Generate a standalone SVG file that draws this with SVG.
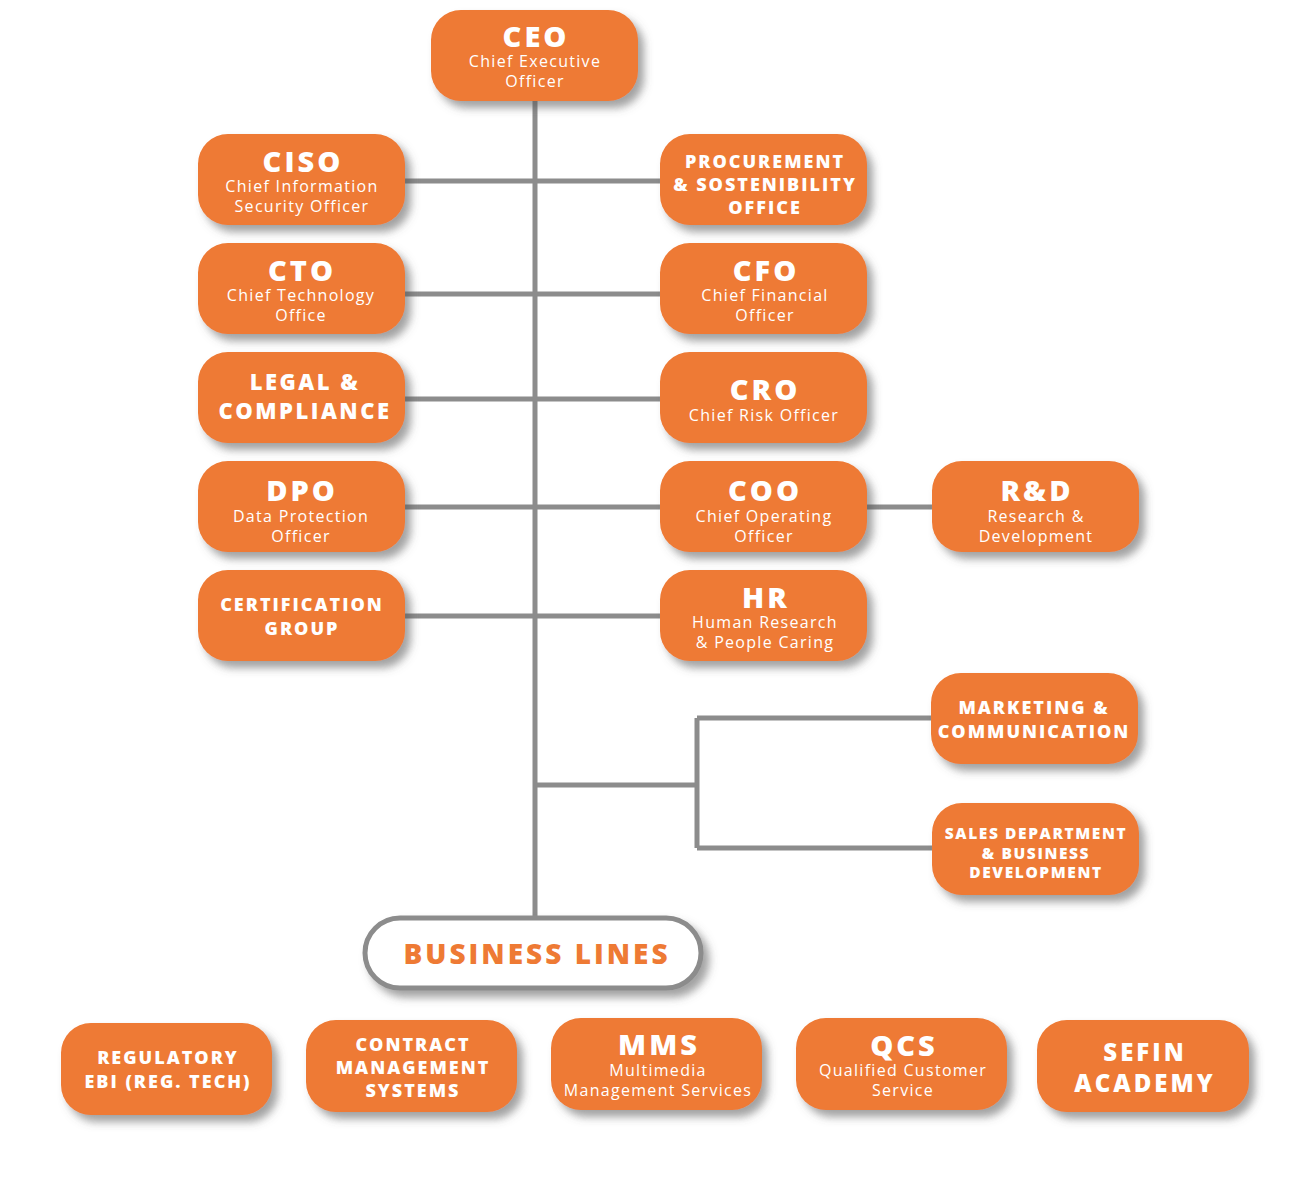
<svg xmlns="http://www.w3.org/2000/svg" width="1290" height="1187" viewBox="0 0 1290 1187">
<defs>
<filter id="sh" x="-20%" y="-20%" width="150%" height="160%">
<feDropShadow dx="6" dy="7" stdDeviation="4" flood-color="#555" flood-opacity="0.55"/>
</filter>
<style>
.box{fill:#EE7A34;filter:url(#sh)}
.t{font-family:"Open Sans","Liberation Sans",sans-serif;font-weight:800;fill:#fff;text-anchor:middle}
.big{font-size:29px;letter-spacing:3px}
.m{font-size:18px;letter-spacing:2px}
.s{font-family:"Open Sans","Liberation Sans",sans-serif;font-weight:500;fill:#fff;text-anchor:middle;font-size:16px;letter-spacing:1.3px}
.ln{stroke:#8C8C8C;stroke-width:5;fill:none}
</style>
</defs>
<rect width="1290" height="1187" fill="#fff"/>
<g id="connectors">
<path class="ln" d="M535 100V918"/>
<path class="ln" d="M405 181H660M405 294H660M405 399H660M405 507H660M405 616H660M867 507H932"/>
<path class="ln" d="M535 785H697M697 718V848M697 718H931M697 848H932"/>
</g>
<g id="ceo"><rect class="box" x="431" y="10" width="207" height="91" rx="30"/>
<text class="t big" x="536" y="47">CEO</text>
<text class="s" x="535" y="67">Chief Executive</text><text class="s" x="535" y="87">Officer</text></g>
<g id="ciso"><rect class="box" x="198" y="134" width="207" height="91" rx="30"/>
<text class="t big" x="303" y="172">CISO</text>
<text class="s" x="302" y="192">Chief Information</text><text class="s" x="302" y="212">Security Officer</text></g>
<g id="cto"><rect class="box" x="198" y="243" width="207" height="91" rx="30"/>
<text class="t big" x="302" y="281">CTO</text>
<text class="s" x="301" y="301">Chief Technology</text><text class="s" x="301" y="321">Office</text></g>
<g id="legal"><rect class="box" x="198" y="352" width="207" height="91" rx="30"/>
<text class="t" x="305" y="390" font-size="22" letter-spacing="2.5">LEGAL &amp;</text>
<text class="t" x="305" y="419" font-size="22" letter-spacing="2.5">COMPLIANCE</text></g>
<g id="dpo"><rect class="box" x="198" y="461" width="207" height="91" rx="30"/>
<text class="t big" x="302" y="501">DPO</text>
<text class="s" x="301" y="522">Data Protection</text><text class="s" x="301" y="542">Officer</text></g>
<g id="cert"><rect class="box" x="198" y="570" width="207" height="91" rx="30"/>
<text class="t m" x="302" y="611">CERTIFICATION</text>
<text class="t m" x="302" y="635">GROUP</text></g>
<g id="procurement"><rect class="box" x="660" y="134" width="207" height="91" rx="30"/>
<text class="t m" x="765" y="168">PROCUREMENT</text>
<text class="t m" x="765" y="191">&amp; SOSTENIBILITY</text>
<text class="t m" x="765" y="214">OFFICE</text></g>
<g id="cfo"><rect class="box" x="660" y="243" width="207" height="91" rx="30"/>
<text class="t big" x="766" y="281">CFO</text>
<text class="s" x="765" y="301">Chief Financial</text><text class="s" x="765" y="321">Officer</text></g>
<g id="cro"><rect class="box" x="660" y="352" width="207" height="91" rx="30"/>
<text class="t big" x="765" y="400">CRO</text>
<text class="s" x="764" y="421">Chief Risk Officer</text></g>
<g id="coo"><rect class="box" x="660" y="461" width="207" height="91" rx="30"/>
<text class="t big" x="765" y="501">COO</text>
<text class="s" x="764" y="522">Chief Operating</text><text class="s" x="764" y="542">Officer</text></g>
<g id="hr"><rect class="box" x="660" y="570" width="207" height="91" rx="30"/>
<text class="t big" x="766" y="608">HR</text>
<text class="s" x="765" y="628">Human Research</text><text class="s" x="765" y="648">&amp; People Caring</text></g>
<g id="rnd"><rect class="box" x="932" y="461" width="207" height="91" rx="30"/>
<text class="t big" x="1037" y="501">R&amp;D</text>
<text class="s" x="1036" y="522">Research &amp;</text><text class="s" x="1036" y="542">Development</text></g>
<g id="marketing"><rect class="box" x="931" y="673" width="207" height="91" rx="30"/>
<text class="t m" x="1034" y="714">MARKETING &amp;</text>
<text class="t m" x="1034" y="738">COMMUNICATION</text></g>
<g id="sales"><rect class="box" x="932" y="803" width="207" height="92" rx="30"/>
<text class="t" x="1036" y="839" font-size="15.5" letter-spacing="1.6">SALES DEPARTMENT</text>
<text class="t" x="1036" y="859" font-size="15.5" letter-spacing="1.6">&amp; BUSINESS</text>
<text class="t" x="1036" y="878" font-size="15.5" letter-spacing="1.6">DEVELOPMENT</text></g>
<g id="business-lines"><rect x="365" y="918" width="336" height="70" rx="35" fill="#fff" stroke="#8C8C8C" stroke-width="5" filter="url(#sh)"/>
<text class="t" x="537" y="964" font-size="28" letter-spacing="3" style="fill:#EE7A34">BUSINESS LINES</text></g>
<g id="regulatory"><rect class="box" x="61" y="1023" width="211" height="92" rx="30"/>
<text class="t m" x="168" y="1064">REGULATORY</text>
<text class="t m" x="168" y="1088">EBI (REG. TECH)</text></g>
<g id="contract"><rect class="box" x="306" y="1020" width="211" height="92" rx="30"/>
<text class="t m" x="413" y="1051">CONTRACT</text>
<text class="t m" x="413" y="1074">MANAGEMENT</text>
<text class="t m" x="413" y="1097">SYSTEMS</text></g>
<g id="mms"><rect class="box" x="551" y="1018" width="211" height="92" rx="30"/>
<text class="t big" x="659" y="1055">MMS</text>
<text class="s" x="658" y="1076">Multimedia</text><text class="s" x="658" y="1096">Management Services</text></g>
<g id="qcs"><rect class="box" x="796" y="1018" width="211" height="92" rx="30"/>
<text class="t big" x="904" y="1056">QCS</text>
<text class="s" x="903" y="1076">Qualified Customer</text><text class="s" x="903" y="1096">Service</text></g>
<g id="sefin"><rect class="box" x="1037" y="1020" width="212" height="92" rx="30"/>
<text class="t" x="1145" y="1061" font-size="24" letter-spacing="3">SEFIN</text>
<text class="t" x="1145" y="1092" font-size="24" letter-spacing="3">ACADEMY</text></g>
</svg>
